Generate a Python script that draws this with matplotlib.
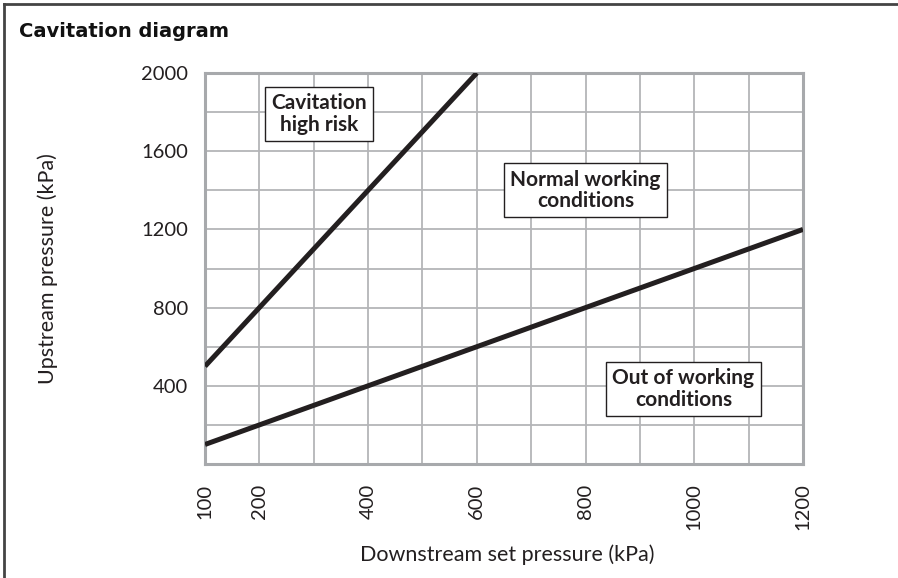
"""
Cavitation diagram: upstream vs downstream set pressure.

Writes out.png (898x578 px).
"""

import matplotlib

matplotlib.use("Agg")

import matplotlib.pyplot as plt
from matplotlib.lines import Line2D
from matplotlib.ticker import MultipleLocator

plt.rcParams["font.family"] = ["Lato", "DejaVu Sans"]

# ---------------------------------------------------------------------------
# Data (kPa)
# ---------------------------------------------------------------------------

# Upper boundary: cavitation high risk above this line
cav_x = [100, 600]
cav_y = [500, 2000]

# Lower boundary: out of working conditions below this line
out_x = [100, 1200]
out_y = [100, 1200]

x_ticks = [100, 200, 400, 600, 800, 1000, 1200]
y_ticks = [400, 800, 1200, 1600, 2000]

region_labels = ["Cavitation\nhigh risk", "Normal working\nconditions", "Out of working\nconditions"]
region_x = [310, 800, 980]
region_y = [1790, 1400, 385]

INK = "#231f20"
GRID = "#b4b5b8"

# ---------------------------------------------------------------------------
# Figure
# ---------------------------------------------------------------------------

fig = plt.figure(figsize=(8.98, 5.78), dpi=100)
ax = fig.add_axes([0.2283, 0.1972, 0.6659, 0.6765])

ax.set_xlim(100, 1200)
ax.set_ylim(0, 2000)

ax.xaxis.set_minor_locator(MultipleLocator(100))
ax.yaxis.set_minor_locator(MultipleLocator(200))
ax.set_xticks(x_ticks)
ax.set_yticks(y_ticks)
ax.set_xticklabels([str(v) for v in x_ticks], rotation=90)
ax.set_yticklabels([str(v) for v in y_ticks])
ax.tick_params(which="both", length=0, labelsize=14.5, colors=INK)
ax.tick_params(axis="y", pad=12)
ax.tick_params(axis="x", pad=14)
ax.grid(which="minor", color=GRID, linewidth=1.3)
ax.grid(which="major", color=GRID, linewidth=1.3)
ax.set_axisbelow(True)

for sp in ax.spines.values():
    sp.set_color("#a7a9ac")
    sp.set_linewidth(2.2)

ax.plot(cav_x, cav_y, color=INK, linewidth=3.6, solid_capstyle="butt", zorder=3)
ax.plot(out_x, out_y, color=INK, linewidth=3.6, solid_capstyle="butt", zorder=3)

for label, x, y in zip(region_labels, region_x, region_y):
    ax.text(
        x, y, label,
        ha="center", va="center",
        fontsize=15, fontweight="bold", color=INK,
        linespacing=1.1, zorder=4,
        bbox=dict(boxstyle="square,pad=0.3", fc="white", ec=INK, lw=1.0),
    )

ax.set_xlabel("Downstream set pressure (kPa)", fontsize=15.5, color=INK)
ax.set_ylabel("Upstream pressure (kPa)", fontsize=15.5, color=INK)
ax.xaxis.set_label_coords(0.505, -0.232)
ax.xaxis.label.set_va("center")
ax.yaxis.set_label_coords(-0.263, 0.5)
ax.yaxis.label.set_va("center")

fig.text(0.021, 0.945, "Cavitation diagram", fontsize=14, fontweight="bold",
         family="DejaVu Sans", color="#111111", ha="left", va="center")

# frame: top and left edges only
fig.add_artist(Line2D([0.005, 1.0], [0.993, 0.993], color="#444444", lw=2,
                      transform=fig.transFigure))
fig.add_artist(Line2D([0.005, 0.005], [0.0, 0.993], color="#444444", lw=2,
                      transform=fig.transFigure))

fig.savefig("out.png", dpi=100)
plt.close(fig)
